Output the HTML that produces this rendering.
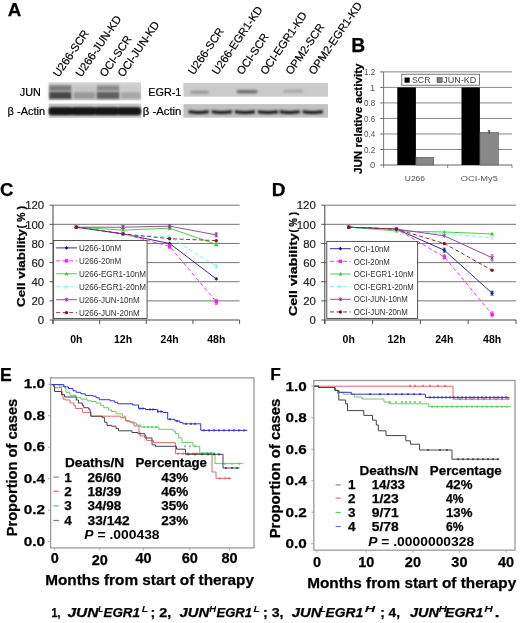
<!DOCTYPE html>
<html><head><meta charset="utf-8"><style>
html,body{margin:0;padding:0;background:#fff;}
body{width:520px;height:623px;overflow:hidden;}
svg{display:block;font-family:"Liberation Sans", sans-serif;filter:blur(0.3px);}
</style></head><body>
<svg width="520" height="623" viewBox="0 0 520 623">
<defs>
<filter id="bl" x="-20%" y="-50%" width="140%" height="200%"><feGaussianBlur stdDeviation="1.3"/></filter>
<filter id="bl2" x="-20%" y="-100%" width="140%" height="300%"><feGaussianBlur stdDeviation="0.8"/></filter>
</defs>
<rect width="520" height="623" fill="#fff"/>
<text x="7.7" y="16.3" font-size="18.8" font-weight="bold" fill="#000" stroke="#000" stroke-width="0.25" >A</text>
<text x="58.8" y="77.8" font-size="11.2" font-weight="normal" fill="#000" stroke="#000" stroke-width="0.18" transform="rotate(-55.5 58.8 77.8)" >U266-SCR</text>
<text x="81.3" y="77.8" font-size="11.2" font-weight="normal" fill="#000" stroke="#000" stroke-width="0.18" transform="rotate(-55.5 81.3 77.8)" >U266-JUN-KD</text>
<text x="105.3" y="77.8" font-size="11.2" font-weight="normal" fill="#000" stroke="#000" stroke-width="0.18" transform="rotate(-55.5 105.3 77.8)" >OCI-SCR</text>
<text x="123.3" y="77.8" font-size="11.2" font-weight="normal" fill="#000" stroke="#000" stroke-width="0.18" transform="rotate(-55.5 123.3 77.8)" >OCI-JUN-KD</text>
<text x="193.8" y="75.6" font-size="11.2" font-weight="normal" fill="#000" stroke="#000" stroke-width="0.18" transform="rotate(-55.5 193.8 75.6)" >U266-SCR</text>
<text x="217.60000000000002" y="75.6" font-size="11.2" font-weight="normal" fill="#000" stroke="#000" stroke-width="0.18" transform="rotate(-55.5 217.60000000000002 75.6)" >U266-EGR1-KD</text>
<text x="242.3" y="75.6" font-size="11.2" font-weight="normal" fill="#000" stroke="#000" stroke-width="0.18" transform="rotate(-55.5 242.3 75.6)" >OCI-SCR</text>
<text x="265.90000000000003" y="75.6" font-size="11.2" font-weight="normal" fill="#000" stroke="#000" stroke-width="0.18" transform="rotate(-55.5 265.90000000000003 75.6)" >OCI-EGR1-KD</text>
<text x="291.3" y="75.6" font-size="11.2" font-weight="normal" fill="#000" stroke="#000" stroke-width="0.18" transform="rotate(-55.5 291.3 75.6)" >OPM2-SCR</text>
<text x="314.3" y="75.6" font-size="11.2" font-weight="normal" fill="#000" stroke="#000" stroke-width="0.18" transform="rotate(-55.5 314.3 75.6)" >OPM2-EGR1-KD</text>
<text x="19.8" y="95.8" font-size="10" font-weight="normal" fill="#000" stroke="#000" stroke-width="0.18" textLength="21" lengthAdjust="spacingAndGlyphs" >JUN</text>
<text x="7.6" y="114.8" font-size="10.4" font-weight="normal" fill="#000" stroke="#000" stroke-width="0.18" textLength="37.6" lengthAdjust="spacingAndGlyphs" >β -Actin</text>
<text x="148.2" y="96.2" font-size="10" font-weight="normal" fill="#000" stroke="#000" stroke-width="0.18" textLength="33.2" lengthAdjust="spacingAndGlyphs" >EGR-1</text>
<text x="142.8" y="115.2" font-size="10.4" font-weight="normal" fill="#000" stroke="#000" stroke-width="0.18" textLength="38.6" lengthAdjust="spacingAndGlyphs" >β -Actin</text>
<rect x="48.7" y="82.3" width="92.3" height="18" fill="#d4d4d4" />
<rect x="49.2" y="85.2" width="22.299999999999997" height="5.8" fill="#7c7c7c" filter="url(#bl)"/>
<rect x="49.2" y="91.8" width="22.299999999999997" height="7.2" fill="#464646" filter="url(#bl)"/>
<rect x="73.5" y="85.2" width="21.5" height="5.8" fill="#c4c4c4" filter="url(#bl)"/>
<rect x="73.5" y="91.8" width="21.5" height="7.2" fill="#9a9a9a" filter="url(#bl)"/>
<rect x="96.5" y="85.2" width="23.0" height="5.8" fill="#8c8c8c" filter="url(#bl)"/>
<rect x="96.5" y="91.8" width="23.0" height="7.2" fill="#5e5e5e" filter="url(#bl)"/>
<rect x="121" y="85.2" width="19.5" height="5.8" fill="#cbcbcb" filter="url(#bl)"/>
<rect x="121" y="91.8" width="19.5" height="7.2" fill="#a8a8a8" filter="url(#bl)"/>
<rect x="48.7" y="103.6" width="92.3" height="14.2" fill="#c6c6c6" />
<rect x="49.2" y="108.2" width="91.3" height="6" fill="#161616" filter="url(#bl2)"/>
<rect x="49.2" y="107.4" width="22.799999999999997" height="7.4" rx="2.5" fill="#161616" filter="url(#bl2)"/>
<rect x="71" y="107.4" width="24.5" height="7.4" rx="2.5" fill="#161616" filter="url(#bl2)"/>
<rect x="94.5" y="107.4" width="24.0" height="7.4" rx="2.5" fill="#161616" filter="url(#bl2)"/>
<rect x="117.5" y="107.4" width="23.0" height="7.4" rx="2.5" fill="#161616" filter="url(#bl2)"/>
<rect x="183.4" y="83" width="144.6" height="13.6" fill="#cbcbcb" />
<rect x="190.5" y="90.4" width="18.5" height="3.6" rx="1.8" fill="#9c9c9c" filter="url(#bl2)"/>
<rect x="236.5" y="90" width="21.0" height="3.6" rx="1.8" fill="#707070" filter="url(#bl2)"/>
<rect x="283" y="89.4" width="20.5" height="3.6" rx="1.8" fill="#ababab" filter="url(#bl2)"/>
<rect x="183.4" y="104.1" width="144.6" height="13.5" fill="#c2c2c2" />
<path d="M188.6 110.2 Q198.7 111.6 208.8 110.2 L208.8 113.2 Q198.7 114.6 188.6 113.2 Z" fill="#121212" filter="url(#bl2)"/>
<path d="M211.7 110.2 Q221.8 111.6 231.9 110.2 L231.9 113.2 Q221.8 114.6 211.7 113.2 Z" fill="#121212" filter="url(#bl2)"/>
<path d="M234.8 110.2 Q244.9 111.6 255 110.2 L255 113.2 Q244.9 114.6 234.8 113.2 Z" fill="#121212" filter="url(#bl2)"/>
<path d="M257.9 110.2 Q267.95 111.6 278 110.2 L278 113.2 Q267.95 114.6 257.9 113.2 Z" fill="#121212" filter="url(#bl2)"/>
<path d="M279.5 110.2 Q289.6 111.6 299.7 110.2 L299.7 113.2 Q289.6 114.6 279.5 113.2 Z" fill="#121212" filter="url(#bl2)"/>
<path d="M302.6 110.2 Q312.70000000000005 111.6 322.8 110.2 L322.8 113.2 Q312.70000000000005 114.6 302.6 113.2 Z" fill="#121212" filter="url(#bl2)"/>
<text x="351.2" y="52.4" font-size="19.3" font-weight="bold" fill="#000" stroke="#000" stroke-width="0.25" >B</text>
<text x="361.6" y="174" font-size="11.8" font-weight="bold" fill="#000" stroke="#000" stroke-width="0.25" textLength="110.5" lengthAdjust="spacingAndGlyphs" transform="rotate(-90 361.6 174)" >JUN relative activity</text>
<text x="375.3" y="168.3" font-size="9.4" font-weight="normal" fill="#555" text-anchor="end" >0</text>
<line x1="380.2" y1="165.0" x2="383.6" y2="165.0" stroke="#555" stroke-width="0.9" />
<text x="364.1" y="152.8" font-size="9.4" font-weight="normal" fill="#555" textLength="11.2" lengthAdjust="spacingAndGlyphs" >0.2</text>
<line x1="380.2" y1="149.48" x2="383.6" y2="149.48" stroke="#555" stroke-width="0.9" />
<line x1="383.6" y1="149.48" x2="512" y2="149.48" stroke="#7a7a7a" stroke-width="0.9" />
<text x="364.1" y="137.3" font-size="9.4" font-weight="normal" fill="#555" textLength="11.2" lengthAdjust="spacingAndGlyphs" >0.4</text>
<line x1="380.2" y1="133.96" x2="383.6" y2="133.96" stroke="#555" stroke-width="0.9" />
<line x1="383.6" y1="133.96" x2="512" y2="133.96" stroke="#7a7a7a" stroke-width="0.9" />
<text x="364.1" y="121.7" font-size="9.4" font-weight="normal" fill="#555" textLength="11.2" lengthAdjust="spacingAndGlyphs" >0.6</text>
<line x1="380.2" y1="118.44" x2="383.6" y2="118.44" stroke="#555" stroke-width="0.9" />
<line x1="383.6" y1="118.44" x2="512" y2="118.44" stroke="#7a7a7a" stroke-width="0.9" />
<text x="364.1" y="106.2" font-size="9.4" font-weight="normal" fill="#555" textLength="11.2" lengthAdjust="spacingAndGlyphs" >0.8</text>
<line x1="380.2" y1="102.92" x2="383.6" y2="102.92" stroke="#555" stroke-width="0.9" />
<line x1="383.6" y1="102.92" x2="512" y2="102.92" stroke="#7a7a7a" stroke-width="0.9" />
<text x="375.3" y="90.7" font-size="9.4" font-weight="normal" fill="#555" text-anchor="end" >1</text>
<line x1="380.2" y1="87.4" x2="383.6" y2="87.4" stroke="#555" stroke-width="0.9" />
<line x1="383.6" y1="87.4" x2="512" y2="87.4" stroke="#7a7a7a" stroke-width="0.9" />
<text x="364.1" y="75.2" font-size="9.4" font-weight="normal" fill="#555" textLength="11.2" lengthAdjust="spacingAndGlyphs" >1.2</text>
<line x1="380.2" y1="71.88" x2="383.6" y2="71.88" stroke="#555" stroke-width="0.9" />
<line x1="383.6" y1="71.88" x2="512" y2="71.88" stroke="#7a7a7a" stroke-width="0.9" />
<line x1="383.6" y1="71.88" x2="383.6" y2="167.5" stroke="#777" stroke-width="1" />
<line x1="383.6" y1="165.0" x2="512" y2="165.0" stroke="#666" stroke-width="1.1" />
<line x1="447.7" y1="165.0" x2="447.7" y2="168.0" stroke="#666" stroke-width="0.8" />
<line x1="512" y1="165.0" x2="512" y2="168.0" stroke="#666" stroke-width="0.8" />
<rect x="397.3" y="87.4" width="18.6" height="77.6" fill="#000" />
<rect x="415.9" y="157.24" width="17.9" height="7.759999999999991" fill="#888" stroke="#444" stroke-width="0.5"/>
<rect x="461.5" y="87.4" width="18.4" height="77.6" fill="#000" />
<rect x="479.9" y="132.41" width="18.5" height="32.59" fill="#888" stroke="#444" stroke-width="0.5"/>
<line x1="489.1" y1="130.86" x2="489.1" y2="133.96" stroke="#222" stroke-width="0.9" />
<line x1="487.8" y1="130.86" x2="490.4" y2="130.86" stroke="#222" stroke-width="0.9" />
<rect x="401.8" y="74.2" width="77.6" height="11" fill="#fff" stroke="#555" stroke-width="0.8"/>
<rect x="404.5" y="77.5" width="5.2" height="5.2" fill="#000" />
<text x="412" y="83" font-size="8.5" font-weight="normal" fill="#444" textLength="18.5" lengthAdjust="spacingAndGlyphs" >SCR</text>
<rect x="437" y="77.5" width="5.2" height="5.2" fill="#808080" stroke="#333" stroke-width="0.5"/>
<text x="443.3" y="83" font-size="8.5" font-weight="normal" fill="#444" textLength="33" lengthAdjust="spacingAndGlyphs" >JUN-KD</text>
<text x="404.8" y="181" font-size="8" font-weight="normal" fill="#555" textLength="20.2" lengthAdjust="spacingAndGlyphs" >U266</text>
<text x="460.8" y="181" font-size="8" font-weight="normal" fill="#555" textLength="37" lengthAdjust="spacingAndGlyphs" >OCI-My5</text>
<text x="0" y="196.2" font-size="18.5" font-weight="bold" fill="#000" stroke="#000" stroke-width="0.25" >C</text>
<text x="25.3" y="307" font-size="11.8" font-weight="bold" fill="#000" stroke="#000" stroke-width="0.25" textLength="78" lengthAdjust="spacingAndGlyphs" transform="rotate(-90 25.3 307)" >Cell viability</text>
<text x="25.3" y="228.5" font-size="11.8" font-weight="bold" fill="#000" stroke="#000" stroke-width="0.25" textLength="22.5" lengthAdjust="spacingAndGlyphs" transform="rotate(-90 25.3 228.5)" >( % )</text>
<text x="44.2" y="324.2" font-size="11.4" font-weight="normal" fill="#222" stroke="#222" stroke-width="0.18" text-anchor="end" >0</text>
<line x1="49.5" y1="320.0" x2="53" y2="320.0" stroke="#444" stroke-width="0.9" />
<text x="44.2" y="305.1" font-size="11.4" font-weight="normal" fill="#222" stroke="#222" stroke-width="0.18" text-anchor="end" >20</text>
<line x1="49.5" y1="300.866" x2="53" y2="300.866" stroke="#444" stroke-width="0.9" />
<line x1="53" y1="300.866" x2="239.6" y2="300.866" stroke="#666" stroke-width="0.9" />
<text x="44.2" y="285.9" font-size="11.4" font-weight="normal" fill="#222" stroke="#222" stroke-width="0.18" text-anchor="end" >40</text>
<line x1="49.5" y1="281.73199999999997" x2="53" y2="281.73199999999997" stroke="#444" stroke-width="0.9" />
<line x1="53" y1="281.73199999999997" x2="239.6" y2="281.73199999999997" stroke="#666" stroke-width="0.9" />
<text x="44.2" y="266.8" font-size="11.4" font-weight="normal" fill="#222" stroke="#222" stroke-width="0.18" text-anchor="end" >60</text>
<line x1="49.5" y1="262.598" x2="53" y2="262.598" stroke="#444" stroke-width="0.9" />
<line x1="53" y1="262.598" x2="239.6" y2="262.598" stroke="#666" stroke-width="0.9" />
<text x="44.2" y="247.7" font-size="11.4" font-weight="normal" fill="#222" stroke="#222" stroke-width="0.18" text-anchor="end" >80</text>
<line x1="49.5" y1="243.464" x2="53" y2="243.464" stroke="#444" stroke-width="0.9" />
<line x1="53" y1="243.464" x2="239.6" y2="243.464" stroke="#666" stroke-width="0.9" />
<text x="44.2" y="228.5" font-size="11.4" font-weight="normal" fill="#222" stroke="#222" stroke-width="0.18" text-anchor="end" >100</text>
<line x1="49.5" y1="224.32999999999998" x2="53" y2="224.32999999999998" stroke="#444" stroke-width="0.9" />
<line x1="53" y1="224.32999999999998" x2="239.6" y2="224.32999999999998" stroke="#666" stroke-width="0.9" />
<text x="44.2" y="209.4" font-size="11.4" font-weight="normal" fill="#222" stroke="#222" stroke-width="0.18" text-anchor="end" >120</text>
<line x1="49.5" y1="205.196" x2="53" y2="205.196" stroke="#444" stroke-width="0.9" />
<line x1="53" y1="205.196" x2="239.6" y2="205.196" stroke="#666" stroke-width="0.9" />
<line x1="53" y1="205.196" x2="53" y2="324.0" stroke="#444" stroke-width="1" />
<line x1="53" y1="320.0" x2="239.6" y2="320.0" stroke="#444" stroke-width="1" />
<line x1="53.0" y1="320.0" x2="53.0" y2="324.0" stroke="#444" stroke-width="0.9" />
<line x1="99.65" y1="320.0" x2="99.65" y2="324.0" stroke="#444" stroke-width="0.9" />
<line x1="146.3" y1="320.0" x2="146.3" y2="324.0" stroke="#444" stroke-width="0.9" />
<line x1="192.95" y1="320.0" x2="192.95" y2="324.0" stroke="#444" stroke-width="0.9" />
<line x1="239.6" y1="320.0" x2="239.6" y2="324.0" stroke="#444" stroke-width="0.9" />
<text x="76.3" y="342.5" font-size="10.5" font-weight="bold" fill="#000" text-anchor="middle" >0h</text>
<text x="123.0" y="342.5" font-size="10.5" font-weight="bold" fill="#000" text-anchor="middle" >12h</text>
<text x="169.6" y="342.5" font-size="10.5" font-weight="bold" fill="#000" text-anchor="middle" >24h</text>
<text x="216.3" y="342.5" font-size="10.5" font-weight="bold" fill="#000" text-anchor="middle" >48h</text>
<rect x="53.6" y="240.5" width="93.5" height="78.0" fill="#fff" stroke="#444" stroke-width="0.9"/>
<polyline points="76.3,227.2 123.0,233.9 169.6,243.5 216.3,278.9" fill="none" stroke="#1a1a80" stroke-width="0.9" />
<path d="M76.3 225.29999999999998 L78.2 227.2 L76.3 229.1 L74.39999999999999 227.2 Z" fill="#1a1a80"/>
<path d="M123.0 232.0 L124.9 233.9 L123.0 235.8 L121.1 233.9 Z" fill="#1a1a80"/>
<path d="M169.6 241.6 L171.5 243.5 L169.6 245.4 L167.7 243.5 Z" fill="#1a1a80"/>
<path d="M216.3 277.0 L218.20000000000002 278.9 L216.3 280.79999999999995 L214.4 278.9 Z" fill="#1a1a80"/>
<line x1="56.2" y1="247.9" x2="76.9" y2="247.9" stroke="#1a1a80" stroke-width="0.9" />
<path d="M66.55 246.0 L68.45 247.9 L66.55 249.8 L64.64999999999999 247.9 Z" fill="#1a1a80"/>
<text x="78.9" y="251.0" font-size="8.748" font-weight="normal" fill="#333" textLength="42.32" lengthAdjust="spacingAndGlyphs" >U266-10nM</text>
<polyline points="76.3,227.2 123.0,233.9 169.6,246.3 216.3,301.8" fill="none" stroke="#f020f0" stroke-width="0.9" stroke-dasharray="4,2.5"/>
<rect x="74.6" y="225.5" width="3.4" height="3.4" fill="#f020f0"/>
<rect x="121.3" y="232.20000000000002" width="3.4" height="3.4" fill="#f020f0"/>
<line x1="169.6" y1="244.3" x2="169.6" y2="248.3" stroke="#f020f0" stroke-width="0.8" />
<line x1="168.1" y1="244.3" x2="171.1" y2="244.3" stroke="#f020f0" stroke-width="0.8" />
<line x1="168.1" y1="248.3" x2="171.1" y2="248.3" stroke="#f020f0" stroke-width="0.8" />
<rect x="167.9" y="244.60000000000002" width="3.4" height="3.4" fill="#f020f0"/>
<line x1="216.3" y1="299.3" x2="216.3" y2="304.3" stroke="#f020f0" stroke-width="0.8" />
<line x1="214.8" y1="299.3" x2="217.8" y2="299.3" stroke="#f020f0" stroke-width="0.8" />
<line x1="214.8" y1="304.3" x2="217.8" y2="304.3" stroke="#f020f0" stroke-width="0.8" />
<rect x="214.60000000000002" y="300.1" width="3.4" height="3.4" fill="#f020f0"/>
<line x1="56.2" y1="260.85" x2="76.9" y2="260.85" stroke="#f020f0" stroke-width="0.9" stroke-dasharray="4,2.5"/>
<rect x="64.85" y="259.15000000000003" width="3.4" height="3.4" fill="#f020f0"/>
<text x="78.9" y="264.0" font-size="8.748" font-weight="normal" fill="#333" textLength="42.32" lengthAdjust="spacingAndGlyphs" >U266-20nM</text>
<polyline points="76.3,227.2 123.0,230.1 169.6,228.2 216.3,244.4" fill="none" stroke="#3cc83c" stroke-width="0.9" />
<path d="M76.3 225.1 L78.39999999999999 228.7 L74.2 228.7 Z" fill="#3cc83c"/>
<path d="M123.0 228.0 L125.1 231.6 L120.9 231.6 Z" fill="#3cc83c"/>
<line x1="169.6" y1="226.7" x2="169.6" y2="229.7" stroke="#3cc83c" stroke-width="0.8" />
<line x1="168.1" y1="226.7" x2="171.1" y2="226.7" stroke="#3cc83c" stroke-width="0.8" />
<line x1="168.1" y1="229.7" x2="171.1" y2="229.7" stroke="#3cc83c" stroke-width="0.8" />
<path d="M169.6 226.1 L171.7 229.7 L167.5 229.7 Z" fill="#3cc83c"/>
<line x1="216.3" y1="242.9" x2="216.3" y2="245.9" stroke="#3cc83c" stroke-width="0.8" />
<line x1="214.8" y1="242.9" x2="217.8" y2="242.9" stroke="#3cc83c" stroke-width="0.8" />
<line x1="214.8" y1="245.9" x2="217.8" y2="245.9" stroke="#3cc83c" stroke-width="0.8" />
<path d="M216.3 242.3 L218.4 245.9 L214.20000000000002 245.9 Z" fill="#3cc83c"/>
<line x1="56.2" y1="273.8" x2="76.9" y2="273.8" stroke="#3cc83c" stroke-width="0.9" />
<path d="M66.55 271.7 L68.64999999999999 275.3 L64.45 275.3 Z" fill="#3cc83c"/>
<text x="78.9" y="276.9" font-size="8.748" font-weight="normal" fill="#333" textLength="67.08" lengthAdjust="spacingAndGlyphs" >U266-EGR1-10nM</text>
<polyline points="76.3,227.2 123.0,234.9 169.6,236.8 216.3,266.4" fill="none" stroke="#70f0f0" stroke-width="0.9" stroke-dasharray="4,2.5"/>
<path d="M74.6 225.5 L78.0 228.89999999999998 M78.0 225.5 L74.6 228.89999999999998" stroke="#70f0f0" stroke-width="0.9"/>
<path d="M121.3 233.20000000000002 L124.7 236.6 M124.7 233.20000000000002 L121.3 236.6" stroke="#70f0f0" stroke-width="0.9"/>
<path d="M167.9 235.10000000000002 L171.29999999999998 238.5 M171.29999999999998 235.10000000000002 L167.9 238.5" stroke="#70f0f0" stroke-width="0.9"/>
<line x1="216.3" y1="264.9" x2="216.3" y2="267.9" stroke="#70f0f0" stroke-width="0.8" />
<line x1="214.8" y1="264.9" x2="217.8" y2="264.9" stroke="#70f0f0" stroke-width="0.8" />
<line x1="214.8" y1="267.9" x2="217.8" y2="267.9" stroke="#70f0f0" stroke-width="0.8" />
<path d="M214.60000000000002 264.7 L218.0 268.09999999999997 M218.0 264.7 L214.60000000000002 268.09999999999997" stroke="#70f0f0" stroke-width="0.9"/>
<line x1="56.2" y1="286.75" x2="76.9" y2="286.75" stroke="#70f0f0" stroke-width="0.9" stroke-dasharray="4,2.5"/>
<path d="M64.85 285.05 L68.25 288.45 M68.25 285.05 L64.85 288.45" stroke="#70f0f0" stroke-width="0.9"/>
<text x="78.9" y="289.9" font-size="8.748" font-weight="normal" fill="#333" textLength="67.08" lengthAdjust="spacingAndGlyphs" >U266-EGR1-20nM</text>
<polyline points="76.3,227.2 123.0,227.2 169.6,226.2 216.3,234.9" fill="none" stroke="#8a3a8a" stroke-width="0.9" />
<path d="M74.7 225.6 L77.89999999999999 228.79999999999998 M77.89999999999999 225.6 L74.7 228.79999999999998 M76.3 225.2 L76.3 229.2" stroke="#8a3a8a" stroke-width="0.9"/>
<line x1="123.0" y1="225.7" x2="123.0" y2="228.7" stroke="#8a3a8a" stroke-width="0.8" />
<line x1="121.5" y1="225.7" x2="124.5" y2="225.7" stroke="#8a3a8a" stroke-width="0.8" />
<line x1="121.5" y1="228.7" x2="124.5" y2="228.7" stroke="#8a3a8a" stroke-width="0.8" />
<path d="M121.4 225.6 L124.6 228.79999999999998 M124.6 225.6 L121.4 228.79999999999998 M123.0 225.2 L123.0 229.2" stroke="#8a3a8a" stroke-width="0.9"/>
<line x1="169.6" y1="224.7" x2="169.6" y2="227.7" stroke="#8a3a8a" stroke-width="0.8" />
<line x1="168.1" y1="224.7" x2="171.1" y2="224.7" stroke="#8a3a8a" stroke-width="0.8" />
<line x1="168.1" y1="227.7" x2="171.1" y2="227.7" stroke="#8a3a8a" stroke-width="0.8" />
<path d="M168.0 224.6 L171.2 227.79999999999998 M171.2 224.6 L168.0 227.79999999999998 M169.6 224.2 L169.6 228.2" stroke="#8a3a8a" stroke-width="0.9"/>
<line x1="216.3" y1="232.9" x2="216.3" y2="236.9" stroke="#8a3a8a" stroke-width="0.8" />
<line x1="214.8" y1="232.9" x2="217.8" y2="232.9" stroke="#8a3a8a" stroke-width="0.8" />
<line x1="214.8" y1="236.9" x2="217.8" y2="236.9" stroke="#8a3a8a" stroke-width="0.8" />
<path d="M214.70000000000002 233.3 L217.9 236.5 M217.9 233.3 L214.70000000000002 236.5 M216.3 232.9 L216.3 236.9" stroke="#8a3a8a" stroke-width="0.9"/>
<line x1="56.2" y1="299.7" x2="76.9" y2="299.7" stroke="#8a3a8a" stroke-width="0.9" />
<path d="M64.95 298.09999999999997 L68.14999999999999 301.3 M68.14999999999999 298.09999999999997 L64.95 301.3 M66.55 297.7 L66.55 301.7" stroke="#8a3a8a" stroke-width="0.9"/>
<text x="78.9" y="302.8" font-size="8.748" font-weight="normal" fill="#333" textLength="60.77" lengthAdjust="spacingAndGlyphs" >U266-JUN-10nM</text>
<polyline points="76.3,227.2 123.0,233.9 169.6,238.7 216.3,240.6" fill="none" stroke="#801a1a" stroke-width="0.9" stroke-dasharray="4,2.5"/>
<circle cx="76.3" cy="227.2" r="1.7" fill="#801a1a"/>
<circle cx="123.0" cy="233.9" r="1.7" fill="#801a1a"/>
<circle cx="169.6" cy="238.7" r="1.7" fill="#801a1a"/>
<circle cx="216.3" cy="240.6" r="1.7" fill="#801a1a"/>
<line x1="56.2" y1="312.65" x2="76.9" y2="312.65" stroke="#801a1a" stroke-width="0.9" stroke-dasharray="4,2.5"/>
<circle cx="66.55" cy="312.65" r="1.7" fill="#801a1a"/>
<text x="78.9" y="315.8" font-size="8.748" font-weight="normal" fill="#333" textLength="60.77" lengthAdjust="spacingAndGlyphs" >U266-JUN-20nM</text>
<text x="271.7" y="195.5" font-size="19" font-weight="bold" fill="#000" stroke="#000" stroke-width="0.25" >D</text>
<text x="297.5" y="316.1" font-size="11.8" font-weight="bold" fill="#000" stroke="#000" stroke-width="0.25" textLength="83" lengthAdjust="spacingAndGlyphs" transform="rotate(-90 297.5 316.1)" >Cell viability</text>
<text x="297.5" y="232.6" font-size="11.8" font-weight="bold" fill="#000" stroke="#000" stroke-width="0.25" textLength="20.5" lengthAdjust="spacingAndGlyphs" transform="rotate(-90 297.5 232.6)" >( % )</text>
<text x="315.8" y="324.2" font-size="11.4" font-weight="normal" fill="#222" stroke="#222" stroke-width="0.18" text-anchor="end" >0</text>
<line x1="321.3" y1="320.0" x2="324.8" y2="320.0" stroke="#444" stroke-width="0.9" />
<text x="315.8" y="305.1" font-size="11.4" font-weight="normal" fill="#222" stroke="#222" stroke-width="0.18" text-anchor="end" >20</text>
<line x1="321.3" y1="300.866" x2="324.8" y2="300.866" stroke="#444" stroke-width="0.9" />
<line x1="324.8" y1="300.866" x2="516" y2="300.866" stroke="#666" stroke-width="0.9" />
<text x="315.8" y="285.9" font-size="11.4" font-weight="normal" fill="#222" stroke="#222" stroke-width="0.18" text-anchor="end" >40</text>
<line x1="321.3" y1="281.73199999999997" x2="324.8" y2="281.73199999999997" stroke="#444" stroke-width="0.9" />
<line x1="324.8" y1="281.73199999999997" x2="516" y2="281.73199999999997" stroke="#666" stroke-width="0.9" />
<text x="315.8" y="266.8" font-size="11.4" font-weight="normal" fill="#222" stroke="#222" stroke-width="0.18" text-anchor="end" >60</text>
<line x1="321.3" y1="262.598" x2="324.8" y2="262.598" stroke="#444" stroke-width="0.9" />
<line x1="324.8" y1="262.598" x2="516" y2="262.598" stroke="#666" stroke-width="0.9" />
<text x="315.8" y="247.7" font-size="11.4" font-weight="normal" fill="#222" stroke="#222" stroke-width="0.18" text-anchor="end" >80</text>
<line x1="321.3" y1="243.464" x2="324.8" y2="243.464" stroke="#444" stroke-width="0.9" />
<line x1="324.8" y1="243.464" x2="516" y2="243.464" stroke="#666" stroke-width="0.9" />
<text x="315.8" y="228.5" font-size="11.4" font-weight="normal" fill="#222" stroke="#222" stroke-width="0.18" text-anchor="end" >100</text>
<line x1="321.3" y1="224.32999999999998" x2="324.8" y2="224.32999999999998" stroke="#444" stroke-width="0.9" />
<line x1="324.8" y1="224.32999999999998" x2="516" y2="224.32999999999998" stroke="#666" stroke-width="0.9" />
<text x="315.8" y="209.4" font-size="11.4" font-weight="normal" fill="#222" stroke="#222" stroke-width="0.18" text-anchor="end" >120</text>
<line x1="321.3" y1="205.196" x2="324.8" y2="205.196" stroke="#444" stroke-width="0.9" />
<line x1="324.8" y1="205.196" x2="516" y2="205.196" stroke="#666" stroke-width="0.9" />
<line x1="324.8" y1="205.196" x2="324.8" y2="324.0" stroke="#444" stroke-width="1" />
<line x1="324.8" y1="320.0" x2="516" y2="320.0" stroke="#444" stroke-width="1" />
<line x1="324.8" y1="320.0" x2="324.8" y2="324.0" stroke="#444" stroke-width="0.9" />
<line x1="372.6" y1="320.0" x2="372.6" y2="324.0" stroke="#444" stroke-width="0.9" />
<line x1="420.4" y1="320.0" x2="420.4" y2="324.0" stroke="#444" stroke-width="0.9" />
<line x1="468.2" y1="320.0" x2="468.2" y2="324.0" stroke="#444" stroke-width="0.9" />
<line x1="516.0" y1="320.0" x2="516.0" y2="324.0" stroke="#444" stroke-width="0.9" />
<text x="348.7" y="342.5" font-size="10.5" font-weight="bold" fill="#000" text-anchor="middle" >0h</text>
<text x="396.5" y="342.5" font-size="10.5" font-weight="bold" fill="#000" text-anchor="middle" >12h</text>
<text x="444.3" y="342.5" font-size="10.5" font-weight="bold" fill="#000" text-anchor="middle" >24h</text>
<text x="492.1" y="342.5" font-size="10.5" font-weight="bold" fill="#000" text-anchor="middle" >48h</text>
<rect x="326.8" y="241.4" width="90.80000000000001" height="77.1" fill="#fff" stroke="#444" stroke-width="0.9"/>
<polyline points="348.7,227.2 396.5,229.1 444.3,250.2 492.1,293.2" fill="none" stroke="#1a1a80" stroke-width="0.9" />
<path d="M348.7 225.29999999999998 L350.59999999999997 227.2 L348.7 229.1 L346.8 227.2 Z" fill="#1a1a80"/>
<path d="M396.5 227.2 L398.4 229.1 L396.5 231.0 L394.6 229.1 Z" fill="#1a1a80"/>
<line x1="444.3" y1="248.2" x2="444.3" y2="252.2" stroke="#1a1a80" stroke-width="0.8" />
<line x1="442.8" y1="248.2" x2="445.8" y2="248.2" stroke="#1a1a80" stroke-width="0.8" />
<line x1="442.8" y1="252.2" x2="445.8" y2="252.2" stroke="#1a1a80" stroke-width="0.8" />
<path d="M444.3 248.29999999999998 L446.2 250.2 L444.3 252.1 L442.40000000000003 250.2 Z" fill="#1a1a80"/>
<line x1="492.1" y1="291.2" x2="492.1" y2="295.2" stroke="#1a1a80" stroke-width="0.8" />
<line x1="490.6" y1="291.2" x2="493.6" y2="291.2" stroke="#1a1a80" stroke-width="0.8" />
<line x1="490.6" y1="295.2" x2="493.6" y2="295.2" stroke="#1a1a80" stroke-width="0.8" />
<path d="M492.1 291.3 L494.0 293.2 L492.1 295.09999999999997 L490.20000000000005 293.2 Z" fill="#1a1a80"/>
<line x1="330" y1="248.7" x2="350.8" y2="248.7" stroke="#1a1a80" stroke-width="0.9" />
<path d="M340.4 246.79999999999998 L342.29999999999995 248.7 L340.4 250.6 L338.5 248.7 Z" fill="#1a1a80"/>
<text x="353.7" y="251.8" font-size="8.478" font-weight="normal" fill="#333" textLength="36.21" lengthAdjust="spacingAndGlyphs" >OCI-10nM</text>
<polyline points="348.7,227.2 396.5,229.1 444.3,256.9 492.1,314.3" fill="none" stroke="#f020f0" stroke-width="0.9" stroke-dasharray="4,2.5"/>
<rect x="347.0" y="225.5" width="3.4" height="3.4" fill="#f020f0"/>
<rect x="394.8" y="227.4" width="3.4" height="3.4" fill="#f020f0"/>
<line x1="444.3" y1="254.89999999999998" x2="444.3" y2="258.9" stroke="#f020f0" stroke-width="0.8" />
<line x1="442.8" y1="254.89999999999998" x2="445.8" y2="254.89999999999998" stroke="#f020f0" stroke-width="0.8" />
<line x1="442.8" y1="258.9" x2="445.8" y2="258.9" stroke="#f020f0" stroke-width="0.8" />
<rect x="442.6" y="255.2" width="3.4" height="3.4" fill="#f020f0"/>
<line x1="492.1" y1="311.8" x2="492.1" y2="316.8" stroke="#f020f0" stroke-width="0.8" />
<line x1="490.6" y1="311.8" x2="493.6" y2="311.8" stroke="#f020f0" stroke-width="0.8" />
<line x1="490.6" y1="316.8" x2="493.6" y2="316.8" stroke="#f020f0" stroke-width="0.8" />
<rect x="490.40000000000003" y="312.6" width="3.4" height="3.4" fill="#f020f0"/>
<line x1="330" y1="261.35" x2="350.8" y2="261.35" stroke="#f020f0" stroke-width="0.9" stroke-dasharray="4,2.5"/>
<rect x="338.7" y="259.65000000000003" width="3.4" height="3.4" fill="#f020f0"/>
<text x="353.7" y="264.5" font-size="8.478" font-weight="normal" fill="#333" textLength="36.21" lengthAdjust="spacingAndGlyphs" >OCI-20nM</text>
<polyline points="348.7,227.2 396.5,231.0 444.3,232.0 492.1,233.9" fill="none" stroke="#3cc83c" stroke-width="0.9" />
<path d="M348.7 225.1 L350.8 228.7 L346.59999999999997 228.7 Z" fill="#3cc83c"/>
<path d="M396.5 228.9 L398.6 232.5 L394.4 232.5 Z" fill="#3cc83c"/>
<path d="M444.3 229.9 L446.40000000000003 233.5 L442.2 233.5 Z" fill="#3cc83c"/>
<path d="M492.1 231.8 L494.20000000000005 235.4 L490.0 235.4 Z" fill="#3cc83c"/>
<line x1="330" y1="274.0" x2="350.8" y2="274.0" stroke="#3cc83c" stroke-width="0.9" />
<path d="M340.4 271.9 L342.5 275.5 L338.29999999999995 275.5 Z" fill="#3cc83c"/>
<text x="353.7" y="277.1" font-size="8.478" font-weight="normal" fill="#333" textLength="60.2" lengthAdjust="spacingAndGlyphs" >OCI-EGR1-10nM</text>
<polyline points="348.7,227.2 396.5,230.1 444.3,233.9 492.1,237.7" fill="none" stroke="#70f0f0" stroke-width="0.9" stroke-dasharray="4,2.5"/>
<path d="M347.0 225.5 L350.4 228.89999999999998 M350.4 225.5 L347.0 228.89999999999998" stroke="#70f0f0" stroke-width="0.9"/>
<path d="M394.8 228.4 L398.2 231.79999999999998 M398.2 228.4 L394.8 231.79999999999998" stroke="#70f0f0" stroke-width="0.9"/>
<path d="M442.6 232.20000000000002 L446.0 235.6 M446.0 232.20000000000002 L442.6 235.6" stroke="#70f0f0" stroke-width="0.9"/>
<path d="M490.40000000000003 236.0 L493.8 239.39999999999998 M493.8 236.0 L490.40000000000003 239.39999999999998" stroke="#70f0f0" stroke-width="0.9"/>
<line x1="330" y1="286.65" x2="350.8" y2="286.65" stroke="#70f0f0" stroke-width="0.9" stroke-dasharray="4,2.5"/>
<path d="M338.7 284.95 L342.09999999999997 288.34999999999997 M342.09999999999997 284.95 L338.7 288.34999999999997" stroke="#70f0f0" stroke-width="0.9"/>
<text x="353.7" y="289.8" font-size="8.478" font-weight="normal" fill="#333" textLength="60.2" lengthAdjust="spacingAndGlyphs" >OCI-EGR1-20nM</text>
<polyline points="348.7,227.2 396.5,229.1 444.3,235.8 492.1,257.8" fill="none" stroke="#8a3a8a" stroke-width="0.9" />
<path d="M347.09999999999997 225.6 L350.3 228.79999999999998 M350.3 225.6 L347.09999999999997 228.79999999999998 M348.7 225.2 L348.7 229.2" stroke="#8a3a8a" stroke-width="0.9"/>
<path d="M394.9 227.5 L398.1 230.7 M398.1 227.5 L394.9 230.7 M396.5 227.1 L396.5 231.1" stroke="#8a3a8a" stroke-width="0.9"/>
<path d="M442.7 234.20000000000002 L445.90000000000003 237.4 M445.90000000000003 234.20000000000002 L442.7 237.4 M444.3 233.8 L444.3 237.8" stroke="#8a3a8a" stroke-width="0.9"/>
<line x1="492.1" y1="254.8" x2="492.1" y2="260.8" stroke="#8a3a8a" stroke-width="0.8" />
<line x1="490.6" y1="254.8" x2="493.6" y2="254.8" stroke="#8a3a8a" stroke-width="0.8" />
<line x1="490.6" y1="260.8" x2="493.6" y2="260.8" stroke="#8a3a8a" stroke-width="0.8" />
<path d="M490.5 256.2 L493.70000000000005 259.40000000000003 M493.70000000000005 256.2 L490.5 259.40000000000003 M492.1 255.8 L492.1 259.8" stroke="#8a3a8a" stroke-width="0.9"/>
<line x1="330" y1="299.3" x2="350.8" y2="299.3" stroke="#8a3a8a" stroke-width="0.9" />
<path d="M338.79999999999995 297.7 L342.0 300.90000000000003 M342.0 297.7 L338.79999999999995 300.90000000000003 M340.4 297.3 L340.4 301.3" stroke="#8a3a8a" stroke-width="0.9"/>
<text x="353.7" y="302.4" font-size="8.478" font-weight="normal" fill="#333" textLength="54.08" lengthAdjust="spacingAndGlyphs" >OCI-JUN-10nM</text>
<polyline points="348.7,227.2 396.5,229.1 444.3,243.5 492.1,270.3" fill="none" stroke="#801a1a" stroke-width="0.9" stroke-dasharray="4,2.5"/>
<circle cx="348.7" cy="227.2" r="1.7" fill="#801a1a"/>
<circle cx="396.5" cy="229.1" r="1.7" fill="#801a1a"/>
<circle cx="444.3" cy="243.5" r="1.7" fill="#801a1a"/>
<circle cx="492.1" cy="270.3" r="1.7" fill="#801a1a"/>
<line x1="330" y1="311.95" x2="350.8" y2="311.95" stroke="#801a1a" stroke-width="0.9" stroke-dasharray="4,2.5"/>
<circle cx="340.4" cy="311.95" r="1.7" fill="#801a1a"/>
<text x="353.7" y="315.1" font-size="8.478" font-weight="normal" fill="#333" textLength="54.08" lengthAdjust="spacingAndGlyphs" >OCI-JUN-20nM</text>
<text x="-0.1" y="381.3" font-size="17.6" font-weight="bold" fill="#000" stroke="#000" stroke-width="0.25" >E</text>
<rect x="50.6" y="377.9" width="203.4" height="170.0" fill="none" stroke="#9a9a9a" stroke-width="1.3"/>
<text x="45" y="545.7" font-size="13.5" font-weight="bold" fill="#000" stroke="#000" stroke-width="0.25" text-anchor="end" textLength="21.3" lengthAdjust="spacingAndGlyphs" >0.0</text>
<line x1="48.1" y1="541.6" x2="50.6" y2="541.6" stroke="#aaa" stroke-width="1" />
<text x="45" y="514.2" font-size="13.5" font-weight="bold" fill="#000" stroke="#000" stroke-width="0.25" text-anchor="end" textLength="21.3" lengthAdjust="spacingAndGlyphs" >0.2</text>
<line x1="48.1" y1="510.12" x2="50.6" y2="510.12" stroke="#aaa" stroke-width="1" />
<text x="45" y="482.7" font-size="13.5" font-weight="bold" fill="#000" stroke="#000" stroke-width="0.25" text-anchor="end" textLength="21.3" lengthAdjust="spacingAndGlyphs" >0.4</text>
<line x1="48.1" y1="478.64" x2="50.6" y2="478.64" stroke="#aaa" stroke-width="1" />
<text x="45" y="451.3" font-size="13.5" font-weight="bold" fill="#000" stroke="#000" stroke-width="0.25" text-anchor="end" textLength="21.3" lengthAdjust="spacingAndGlyphs" >0.6</text>
<line x1="48.1" y1="447.16" x2="50.6" y2="447.16" stroke="#aaa" stroke-width="1" />
<text x="45" y="419.8" font-size="13.5" font-weight="bold" fill="#000" stroke="#000" stroke-width="0.25" text-anchor="end" textLength="21.3" lengthAdjust="spacingAndGlyphs" >0.8</text>
<line x1="48.1" y1="415.68" x2="50.6" y2="415.68" stroke="#aaa" stroke-width="1" />
<text x="45" y="388.3" font-size="13.5" font-weight="bold" fill="#000" stroke="#000" stroke-width="0.25" text-anchor="end" textLength="21.3" lengthAdjust="spacingAndGlyphs" >1.0</text>
<line x1="48.1" y1="384.2" x2="50.6" y2="384.2" stroke="#aaa" stroke-width="1" />
<text x="54.7" y="563.4" font-size="14.5" font-weight="bold" fill="#000" stroke="#000" stroke-width="0.25" text-anchor="middle" >0</text>
<line x1="54.7" y1="547.9" x2="54.7" y2="550.4" stroke="#aaa" stroke-width="1" />
<text x="99.8" y="564.9" font-size="14.5" font-weight="bold" fill="#000" stroke="#000" stroke-width="0.25" text-anchor="middle" >20</text>
<line x1="99.8" y1="547.9" x2="99.8" y2="550.4" stroke="#aaa" stroke-width="1" />
<text x="143.6" y="563.4" font-size="14.5" font-weight="bold" fill="#000" stroke="#000" stroke-width="0.25" text-anchor="middle" >40</text>
<line x1="143.6" y1="547.9" x2="143.6" y2="550.4" stroke="#aaa" stroke-width="1" />
<text x="189.8" y="563.4" font-size="14.5" font-weight="bold" fill="#000" stroke="#000" stroke-width="0.25" text-anchor="middle" >60</text>
<line x1="189.8" y1="547.9" x2="189.8" y2="550.4" stroke="#aaa" stroke-width="1" />
<text x="229.5" y="563.4" font-size="14.5" font-weight="bold" fill="#000" stroke="#000" stroke-width="0.25" text-anchor="middle" >80</text>
<line x1="229.5" y1="547.9" x2="229.5" y2="550.4" stroke="#aaa" stroke-width="1" />
<text x="17.2" y="536.3" font-size="14.5" font-weight="bold" fill="#000" stroke="#000" stroke-width="0.25" textLength="137.5" lengthAdjust="spacingAndGlyphs" transform="rotate(-90 17.2 536.3)" >Proportion of cases</text>
<text x="45.2" y="585" font-size="15" font-weight="bold" fill="#000" stroke="#000" stroke-width="0.25" textLength="208.8" lengthAdjust="spacingAndGlyphs" >Months from start of therapy</text>
<path d="M51.5 384.6 H59.2 V386.2 H65.4 V388.5 H66 V392.3 H70 V395.4 H76.2 V397.7 H80.8 V399.2 H87 V400.8 H91.5 V401.5 H96 V403 H100.8 V405.4 H103.8 V407.7 H108.5 V410 H111.5 V411.5 H116 V413.8 H122.3 V416.2 H125.4 V420 H127 V421.5 H131 V423 H136.5 V425 H140.4 V427 H158.8 V429.3 H173.2 V431 H175.4 V433.7 H178.7 V438 H182 V442.6 H193 V446.3 H199.7 V453 H215 V463.6 H243" fill="none" stroke="#66cc66" stroke-width="1"/>
<rect x="143.2" y="426" width="1.6" height="2" fill="#66cc66"/>
<rect x="147.2" y="426" width="1.6" height="2" fill="#66cc66"/>
<rect x="151.2" y="426" width="1.6" height="2" fill="#66cc66"/>
<rect x="155.2" y="426" width="1.6" height="2" fill="#66cc66"/>
<rect x="184.2" y="445.3" width="1.6" height="2" fill="#66cc66"/>
<rect x="189.2" y="445.3" width="1.6" height="2" fill="#66cc66"/>
<rect x="194.2" y="445.3" width="1.6" height="2" fill="#66cc66"/>
<rect x="202.2" y="452" width="1.6" height="2" fill="#66cc66"/>
<rect x="206.2" y="452" width="1.6" height="2" fill="#66cc66"/>
<rect x="210.2" y="452" width="1.6" height="2" fill="#66cc66"/>
<rect x="224.2" y="462.6" width="1.6" height="2" fill="#66cc66"/>
<rect x="231.2" y="462.6" width="1.6" height="2" fill="#66cc66"/>
<rect x="238.2" y="462.6" width="1.6" height="2" fill="#66cc66"/>
<path d="M51.5 384.6 H54.6 V387.7 H61.5 V391.5 H62.3 V395.4 H63 V399.2 H65.4 V400 H70 V403 H73.8 V405.4 H75.4 V408.5 H82.3 V412.3 H90.8 V416.2 H120.8 V417.7 H125.4 V420.8 H130 V422 H134 V426 H139 V432 H140 V436 H146.6 V440.4 H153.3 V442.6 H175.4 V453.6 H212 V472 H216 V478.4 H231" fill="none" stroke="#e06666" stroke-width="1"/>
<rect x="177.2" y="452.6" width="1.6" height="2" fill="#e06666"/>
<rect x="182.2" y="452.6" width="1.6" height="2" fill="#e06666"/>
<rect x="187.2" y="452.6" width="1.6" height="2" fill="#e06666"/>
<rect x="192.2" y="452.6" width="1.6" height="2" fill="#e06666"/>
<rect x="196.2" y="452.6" width="1.6" height="2" fill="#e06666"/>
<rect x="219.2" y="477.4" width="1.6" height="2" fill="#e06666"/>
<rect x="224.2" y="477.4" width="1.6" height="2" fill="#e06666"/>
<rect x="228.2" y="477.4" width="1.6" height="2" fill="#e06666"/>
<path d="M51.5 384.6 H53.8 V386.9 H54.6 V391.5 H61.5 V394.6 H64.6 V397 H76.2 V400 H78.5 V403 H82.3 V405.4 H83.8 V407.7 H88.5 V409.2 H90 V411.5 H90.8 V416.2 H102.3 V417.7 H104.6 V422.3 H107 V425.4 H111.5 V426.2 H116 V428.5 H118.5 V430.8 H132 V432.5 H138 V433.7 H145 V438 H152 V444.8 H155.5 V446.3 H176.5 V449.2 H185.4 V454.3 H223 V468 H239.6" fill="none" stroke="#444" stroke-width="1"/>
<rect x="187.2" y="453.3" width="1.6" height="2" fill="#444"/>
<rect x="194.2" y="453.3" width="1.6" height="2" fill="#444"/>
<rect x="201.2" y="453.3" width="1.6" height="2" fill="#444"/>
<rect x="207.2" y="453.3" width="1.6" height="2" fill="#444"/>
<rect x="213.2" y="453.3" width="1.6" height="2" fill="#444"/>
<rect x="218.2" y="453.3" width="1.6" height="2" fill="#444"/>
<rect x="225.2" y="467" width="1.6" height="2" fill="#444"/>
<rect x="231.2" y="467" width="1.6" height="2" fill="#444"/>
<rect x="236.2" y="467" width="1.6" height="2" fill="#444"/>
<path d="M51.5 384.6 H63.8 V386.9 H68.5 V388.5 H73 V390.8 H76.2 V392.3 H80.8 V393.8 H85.4 V395.4 H93 V396.2 H96 V397.7 H99.2 V399.7 H110 V400.8 H114.6 V402.3 H117.7 V403.8 H132.7 V405 H138.5 V408.5 H145.5 V409.5 H157.7 V411.6 H163 V412.5 H167.7 V419.3 H175 V421 H179.8 V422.6 H183 V423.8 H200.8 V430.4 H247.3" fill="none" stroke="#3333cc" stroke-width="1"/>
<rect x="203.2" y="429.4" width="1.6" height="2" fill="#3333cc"/>
<rect x="208.2" y="429.4" width="1.6" height="2" fill="#3333cc"/>
<rect x="213.2" y="429.4" width="1.6" height="2" fill="#3333cc"/>
<rect x="218.2" y="429.4" width="1.6" height="2" fill="#3333cc"/>
<rect x="223.2" y="429.4" width="1.6" height="2" fill="#3333cc"/>
<rect x="228.2" y="429.4" width="1.6" height="2" fill="#3333cc"/>
<rect x="233.2" y="429.4" width="1.6" height="2" fill="#3333cc"/>
<rect x="238.2" y="429.4" width="1.6" height="2" fill="#3333cc"/>
<rect x="243.2" y="429.4" width="1.6" height="2" fill="#3333cc"/>
<rect x="139.2" y="407.5" width="1.6" height="2" fill="#3333cc"/>
<rect x="142.2" y="407.5" width="1.6" height="2" fill="#3333cc"/>
<rect x="149.2" y="408.5" width="1.6" height="2" fill="#3333cc"/>
<rect x="152.2" y="408.5" width="1.6" height="2" fill="#3333cc"/>
<rect x="157.2" y="410.6" width="1.6" height="2" fill="#3333cc"/>
<rect x="160.2" y="410.6" width="1.6" height="2" fill="#3333cc"/>
<rect x="169.2" y="418.3" width="1.6" height="2" fill="#3333cc"/>
<rect x="176.2" y="420" width="1.6" height="2" fill="#3333cc"/>
<rect x="185.2" y="422.8" width="1.6" height="2" fill="#3333cc"/>
<rect x="190.2" y="422.8" width="1.6" height="2" fill="#3333cc"/>
<rect x="194.2" y="422.8" width="1.6" height="2" fill="#3333cc"/>
<text x="65.0" y="467.1" font-size="13.5" font-weight="bold" fill="#000" stroke="#000" stroke-width="0.25" textLength="59.1" lengthAdjust="spacingAndGlyphs" >Deaths/N</text>
<text x="135.5" y="467.1" font-size="13.5" font-weight="bold" fill="#000" stroke="#000" stroke-width="0.25" textLength="71.5" lengthAdjust="spacingAndGlyphs" >Percentage</text>
<line x1="53.3" y1="477.1" x2="58.9" y2="477.1" stroke="#888" stroke-width="1.2" />
<text x="64.2" y="481.6" font-size="13.5" font-weight="bold" fill="#000" stroke="#000" stroke-width="0.25" >1</text>
<text x="87.6" y="481.6" font-size="13.5" font-weight="bold" fill="#000" stroke="#000" stroke-width="0.25" textLength="33.8" lengthAdjust="spacingAndGlyphs" >26/60</text>
<text x="161.2" y="481.6" font-size="13.5" font-weight="bold" fill="#000" stroke="#000" stroke-width="0.25" textLength="27" lengthAdjust="spacingAndGlyphs" >43%</text>
<line x1="53.3" y1="491.3" x2="58.9" y2="491.3" stroke="#e07070" stroke-width="1.2" />
<text x="64.2" y="495.8" font-size="13.5" font-weight="bold" fill="#000" stroke="#000" stroke-width="0.25" >2</text>
<text x="87.6" y="495.8" font-size="13.5" font-weight="bold" fill="#000" stroke="#000" stroke-width="0.25" textLength="33.8" lengthAdjust="spacingAndGlyphs" >18/39</text>
<text x="161.2" y="495.8" font-size="13.5" font-weight="bold" fill="#000" stroke="#000" stroke-width="0.25" textLength="27" lengthAdjust="spacingAndGlyphs" >46%</text>
<line x1="53.3" y1="505.9" x2="58.9" y2="505.9" stroke="#66cc66" stroke-width="1.2" />
<text x="64.2" y="510.4" font-size="13.5" font-weight="bold" fill="#000" stroke="#000" stroke-width="0.25" >3</text>
<text x="87.6" y="510.4" font-size="13.5" font-weight="bold" fill="#000" stroke="#000" stroke-width="0.25" textLength="33.8" lengthAdjust="spacingAndGlyphs" >34/98</text>
<text x="161.2" y="510.4" font-size="13.5" font-weight="bold" fill="#000" stroke="#000" stroke-width="0.25" textLength="27" lengthAdjust="spacingAndGlyphs" >35%</text>
<line x1="53.3" y1="520.5" x2="58.9" y2="520.5" stroke="#7070dd" stroke-width="1.2" />
<text x="64.2" y="525" font-size="13.5" font-weight="bold" fill="#000" stroke="#000" stroke-width="0.25" >4</text>
<text x="87.6" y="525" font-size="13.5" font-weight="bold" fill="#000" stroke="#000" stroke-width="0.25" textLength="42" lengthAdjust="spacingAndGlyphs" >33/142</text>
<text x="161.2" y="525" font-size="13.5" font-weight="bold" fill="#000" stroke="#000" stroke-width="0.25" textLength="27" lengthAdjust="spacingAndGlyphs" >23%</text>
<text x="84.3" y="538.8" font-size="13.5" font-weight="bold" textLength="75.3" lengthAdjust="spacingAndGlyphs"><tspan font-style="italic">P</tspan> = .000438</text>
<text x="270.2" y="380.2" font-size="17.3" font-weight="bold" fill="#000" stroke="#000" stroke-width="0.25" >F</text>
<rect x="313.8" y="380.5" width="201.2" height="169.70000000000005" fill="none" stroke="#9a9a9a" stroke-width="1.3"/>
<text x="306.9" y="548.2" font-size="13.5" font-weight="bold" fill="#000" stroke="#000" stroke-width="0.25" text-anchor="end" textLength="21.3" lengthAdjust="spacingAndGlyphs" >0.0</text>
<line x1="311.3" y1="543.7" x2="313.8" y2="543.7" stroke="#aaa" stroke-width="1" />
<text x="306.9" y="516.7" font-size="13.5" font-weight="bold" fill="#000" stroke="#000" stroke-width="0.25" text-anchor="end" textLength="21.3" lengthAdjust="spacingAndGlyphs" >0.2</text>
<line x1="311.3" y1="512.22" x2="313.8" y2="512.22" stroke="#aaa" stroke-width="1" />
<text x="306.9" y="485.2" font-size="13.5" font-weight="bold" fill="#000" stroke="#000" stroke-width="0.25" text-anchor="end" textLength="21.3" lengthAdjust="spacingAndGlyphs" >0.4</text>
<line x1="311.3" y1="480.74" x2="313.8" y2="480.74" stroke="#aaa" stroke-width="1" />
<text x="306.9" y="453.8" font-size="13.5" font-weight="bold" fill="#000" stroke="#000" stroke-width="0.25" text-anchor="end" textLength="21.3" lengthAdjust="spacingAndGlyphs" >0.6</text>
<line x1="311.3" y1="449.26" x2="313.8" y2="449.26" stroke="#aaa" stroke-width="1" />
<text x="306.9" y="422.3" font-size="13.5" font-weight="bold" fill="#000" stroke="#000" stroke-width="0.25" text-anchor="end" textLength="21.3" lengthAdjust="spacingAndGlyphs" >0.8</text>
<line x1="311.3" y1="417.78" x2="313.8" y2="417.78" stroke="#aaa" stroke-width="1" />
<text x="306.9" y="390.8" font-size="13.5" font-weight="bold" fill="#000" stroke="#000" stroke-width="0.25" text-anchor="end" textLength="21.3" lengthAdjust="spacingAndGlyphs" >1.0</text>
<line x1="311.3" y1="386.3" x2="313.8" y2="386.3" stroke="#aaa" stroke-width="1" />
<text x="317" y="566.6" font-size="14.5" font-weight="bold" fill="#000" stroke="#000" stroke-width="0.25" text-anchor="middle" >0</text>
<line x1="317" y1="550.2" x2="317" y2="552.7" stroke="#aaa" stroke-width="1" />
<text x="366.2" y="566.6" font-size="14.5" font-weight="bold" fill="#000" stroke="#000" stroke-width="0.25" text-anchor="middle" >10</text>
<line x1="366.2" y1="550.2" x2="366.2" y2="552.7" stroke="#aaa" stroke-width="1" />
<text x="412.9" y="566.6" font-size="14.5" font-weight="bold" fill="#000" stroke="#000" stroke-width="0.25" text-anchor="middle" >20</text>
<line x1="412.9" y1="550.2" x2="412.9" y2="552.7" stroke="#aaa" stroke-width="1" />
<text x="459.4" y="566.6" font-size="14.5" font-weight="bold" fill="#000" stroke="#000" stroke-width="0.25" text-anchor="middle" >30</text>
<line x1="459.4" y1="550.2" x2="459.4" y2="552.7" stroke="#aaa" stroke-width="1" />
<text x="506.1" y="566.6" font-size="14.5" font-weight="bold" fill="#000" stroke="#000" stroke-width="0.25" text-anchor="middle" >40</text>
<line x1="506.1" y1="550.2" x2="506.1" y2="552.7" stroke="#aaa" stroke-width="1" />
<text x="279.8" y="538.3" font-size="14.5" font-weight="bold" fill="#000" stroke="#000" stroke-width="0.25" textLength="139.5" lengthAdjust="spacingAndGlyphs" transform="rotate(-90 279.8 538.3)" >Proportion of cases</text>
<text x="307.2" y="588" font-size="15" font-weight="bold" fill="#000" stroke="#000" stroke-width="0.25" textLength="209" lengthAdjust="spacingAndGlyphs" >Months from start of therapy</text>
<path d="M314.5 386.2 H318.7 V387.5 H335 V390.4 H338.8 V392.3 H343.6 V394.2 H354.2 V397 H362 V399 H384 V402 H388.8 V403.8 H428.8 V406.6 H510.8" fill="none" stroke="#66cc66" stroke-width="1"/>
<rect x="389.2" y="401" width="1.6" height="2" fill="#66cc66"/>
<rect x="395.2" y="401" width="1.6" height="2" fill="#66cc66"/>
<rect x="401.2" y="401" width="1.6" height="2" fill="#66cc66"/>
<rect x="405.2" y="401" width="1.6" height="2" fill="#66cc66"/>
<rect x="409.2" y="401" width="1.6" height="2" fill="#66cc66"/>
<rect x="414.2" y="401" width="1.6" height="2" fill="#66cc66"/>
<rect x="419.2" y="401" width="1.6" height="2" fill="#66cc66"/>
<rect x="431.2" y="405.6" width="1.6" height="2" fill="#66cc66"/>
<rect x="436.2" y="405.6" width="1.6" height="2" fill="#66cc66"/>
<rect x="441.2" y="405.6" width="1.6" height="2" fill="#66cc66"/>
<rect x="446.2" y="405.6" width="1.6" height="2" fill="#66cc66"/>
<rect x="451.2" y="405.6" width="1.6" height="2" fill="#66cc66"/>
<rect x="456.2" y="405.6" width="1.6" height="2" fill="#66cc66"/>
<rect x="461.2" y="405.6" width="1.6" height="2" fill="#66cc66"/>
<rect x="466.2" y="405.6" width="1.6" height="2" fill="#66cc66"/>
<rect x="471.2" y="405.6" width="1.6" height="2" fill="#66cc66"/>
<rect x="476.2" y="405.6" width="1.6" height="2" fill="#66cc66"/>
<rect x="481.2" y="405.6" width="1.6" height="2" fill="#66cc66"/>
<rect x="486.2" y="405.6" width="1.6" height="2" fill="#66cc66"/>
<rect x="491.2" y="405.6" width="1.6" height="2" fill="#66cc66"/>
<rect x="496.2" y="405.6" width="1.6" height="2" fill="#66cc66"/>
<rect x="501.2" y="405.6" width="1.6" height="2" fill="#66cc66"/>
<rect x="506.2" y="405.6" width="1.6" height="2" fill="#66cc66"/>
<path d="M314.5 386.2 H453 V399.2 H509.6" fill="none" stroke="#e06666" stroke-width="1"/>
<rect x="409.2" y="384.8" width="1.6" height="2" fill="#e06666"/>
<rect x="414.2" y="384.8" width="1.6" height="2" fill="#e06666"/>
<rect x="422.2" y="384.8" width="1.6" height="2" fill="#e06666"/>
<rect x="429.2" y="384.8" width="1.6" height="2" fill="#e06666"/>
<rect x="437.2" y="384.8" width="1.6" height="2" fill="#e06666"/>
<rect x="444.2" y="384.8" width="1.6" height="2" fill="#e06666"/>
<rect x="459.2" y="398.2" width="1.6" height="2" fill="#e06666"/>
<rect x="465.2" y="398.2" width="1.6" height="2" fill="#e06666"/>
<rect x="471.2" y="398.2" width="1.6" height="2" fill="#e06666"/>
<rect x="477.2" y="398.2" width="1.6" height="2" fill="#e06666"/>
<rect x="483.2" y="398.2" width="1.6" height="2" fill="#e06666"/>
<rect x="489.2" y="398.2" width="1.6" height="2" fill="#e06666"/>
<rect x="495.2" y="398.2" width="1.6" height="2" fill="#e06666"/>
<rect x="501.2" y="398.2" width="1.6" height="2" fill="#e06666"/>
<rect x="507.2" y="398.2" width="1.6" height="2" fill="#e06666"/>
<path d="M314.5 386.2 H318.7 V387.5 H335 V390.4 H338.8 V392.3 H351.3 V394.2 H425.4 V397.4 H509.6" fill="none" stroke="#3333cc" stroke-width="1"/>
<rect x="369.2" y="393.2" width="1.6" height="2" fill="#3333cc"/>
<rect x="379.2" y="393.2" width="1.6" height="2" fill="#3333cc"/>
<rect x="387.2" y="393.2" width="1.6" height="2" fill="#3333cc"/>
<rect x="395.2" y="393.2" width="1.6" height="2" fill="#3333cc"/>
<rect x="401.2" y="393.2" width="1.6" height="2" fill="#3333cc"/>
<rect x="407.2" y="393.2" width="1.6" height="2" fill="#3333cc"/>
<rect x="413.2" y="393.2" width="1.6" height="2" fill="#3333cc"/>
<rect x="419.2" y="393.2" width="1.6" height="2" fill="#3333cc"/>
<rect x="429.2" y="396.4" width="1.6" height="2" fill="#3333cc"/>
<rect x="433.2" y="396.4" width="1.6" height="2" fill="#3333cc"/>
<rect x="437.2" y="396.4" width="1.6" height="2" fill="#3333cc"/>
<rect x="441.2" y="396.4" width="1.6" height="2" fill="#3333cc"/>
<rect x="445.2" y="396.4" width="1.6" height="2" fill="#3333cc"/>
<rect x="449.2" y="396.4" width="1.6" height="2" fill="#3333cc"/>
<rect x="453.2" y="396.4" width="1.6" height="2" fill="#3333cc"/>
<rect x="457.2" y="396.4" width="1.6" height="2" fill="#3333cc"/>
<rect x="461.2" y="396.4" width="1.6" height="2" fill="#3333cc"/>
<rect x="465.2" y="396.4" width="1.6" height="2" fill="#3333cc"/>
<rect x="469.2" y="396.4" width="1.6" height="2" fill="#3333cc"/>
<rect x="473.2" y="396.4" width="1.6" height="2" fill="#3333cc"/>
<rect x="477.2" y="396.4" width="1.6" height="2" fill="#3333cc"/>
<rect x="481.2" y="396.4" width="1.6" height="2" fill="#3333cc"/>
<rect x="485.2" y="396.4" width="1.6" height="2" fill="#3333cc"/>
<rect x="489.2" y="396.4" width="1.6" height="2" fill="#3333cc"/>
<rect x="493.2" y="396.4" width="1.6" height="2" fill="#3333cc"/>
<rect x="497.2" y="396.4" width="1.6" height="2" fill="#3333cc"/>
<rect x="501.2" y="396.4" width="1.6" height="2" fill="#3333cc"/>
<rect x="505.2" y="396.4" width="1.6" height="2" fill="#3333cc"/>
<path d="M314.5 386.2 H318.7 V387.5 H335 V390.4 H337.9 V393.3 H338.8 V400 H345.6 V403.8 H347.5 V410.6 H363.8 V415.4 H372.5 V420.2 H376.3 V425 H378.3 V430.8 H386 V435.6 H405.8 V440.8 H410.4 V444.2 H419.6 V450 H452 V459.2 H499.2" fill="none" stroke="#444" stroke-width="1"/>
<rect x="457.2" y="458.2" width="1.6" height="2" fill="#444"/>
<rect x="462.2" y="458.2" width="1.6" height="2" fill="#444"/>
<rect x="467.2" y="458.2" width="1.6" height="2" fill="#444"/>
<rect x="472.2" y="458.2" width="1.6" height="2" fill="#444"/>
<rect x="477.2" y="458.2" width="1.6" height="2" fill="#444"/>
<rect x="482.2" y="458.2" width="1.6" height="2" fill="#444"/>
<rect x="487.2" y="458.2" width="1.6" height="2" fill="#444"/>
<rect x="492.2" y="458.2" width="1.6" height="2" fill="#444"/>
<rect x="497.2" y="458.2" width="1.6" height="2" fill="#444"/>
<rect x="427.2" y="449" width="1.6" height="2" fill="#444"/>
<rect x="439.2" y="449" width="1.6" height="2" fill="#444"/>
<rect x="446.2" y="449" width="1.6" height="2" fill="#444"/>
<text x="359.5" y="474.5" font-size="13.5" font-weight="bold" fill="#000" stroke="#000" stroke-width="0.25" textLength="58.8" lengthAdjust="spacingAndGlyphs" >Deaths/N</text>
<text x="429.8" y="474.5" font-size="13.5" font-weight="bold" fill="#000" stroke="#000" stroke-width="0.25" textLength="72" lengthAdjust="spacingAndGlyphs" >Percentage</text>
<line x1="335.6" y1="484.9" x2="340.8" y2="484.9" stroke="#888" stroke-width="1.2" />
<text x="348" y="489.4" font-size="13.5" font-weight="bold" fill="#000" stroke="#000" stroke-width="0.25" >1</text>
<text x="371.7" y="489.4" font-size="13.5" font-weight="bold" fill="#000" stroke="#000" stroke-width="0.25" textLength="33.3" lengthAdjust="spacingAndGlyphs" >14/33</text>
<text x="446" y="489.4" font-size="13.5" font-weight="bold" fill="#000" stroke="#000" stroke-width="0.25" textLength="26.5" lengthAdjust="spacingAndGlyphs" >42%</text>
<line x1="335.6" y1="498.1" x2="340.8" y2="498.1" stroke="#e07070" stroke-width="1.2" />
<text x="348" y="502.6" font-size="13.5" font-weight="bold" fill="#000" stroke="#000" stroke-width="0.25" >2</text>
<text x="371.7" y="502.6" font-size="13.5" font-weight="bold" fill="#000" stroke="#000" stroke-width="0.25" textLength="27" lengthAdjust="spacingAndGlyphs" >1/23</text>
<text x="446" y="502.6" font-size="13.5" font-weight="bold" fill="#000" stroke="#000" stroke-width="0.25" textLength="17.5" lengthAdjust="spacingAndGlyphs" >4%</text>
<line x1="335.6" y1="512.5" x2="340.8" y2="512.5" stroke="#66cc66" stroke-width="1.2" />
<text x="348" y="517" font-size="13.5" font-weight="bold" fill="#000" stroke="#000" stroke-width="0.25" >3</text>
<text x="371.7" y="517" font-size="13.5" font-weight="bold" fill="#000" stroke="#000" stroke-width="0.25" textLength="27" lengthAdjust="spacingAndGlyphs" >9/71</text>
<text x="446" y="517" font-size="13.5" font-weight="bold" fill="#000" stroke="#000" stroke-width="0.25" textLength="26.5" lengthAdjust="spacingAndGlyphs" >13%</text>
<line x1="335.6" y1="526.5" x2="340.8" y2="526.5" stroke="#7070dd" stroke-width="1.2" />
<text x="348" y="531" font-size="13.5" font-weight="bold" fill="#000" stroke="#000" stroke-width="0.25" >4</text>
<text x="371.7" y="531" font-size="13.5" font-weight="bold" fill="#000" stroke="#000" stroke-width="0.25" textLength="27" lengthAdjust="spacingAndGlyphs" >5/78</text>
<text x="446" y="531" font-size="13.5" font-weight="bold" fill="#000" stroke="#000" stroke-width="0.25" textLength="17.5" lengthAdjust="spacingAndGlyphs" >6%</text>
<text x="368.2" y="545.8" font-size="13.5" font-weight="bold" textLength="106" lengthAdjust="spacingAndGlyphs"><tspan font-style="italic">P</tspan> = .0000000328</text>
<text x="51.5" y="617.3" font-size="12" font-weight="bold" fill="#000" stroke="#000" stroke-width="0.25" textLength="9.0" lengthAdjust="spacingAndGlyphs" >1,</text>
<text x="67.5" y="617.3" font-size="12" font-weight="bold" fill="#000" stroke="#000" stroke-width="0.25" font-style="italic" textLength="31.0" lengthAdjust="spacingAndGlyphs" >JUN</text>
<text x="98.3" y="612.1" font-size="8.2" font-weight="bold" fill="#000" font-style="italic" textLength="5.0" lengthAdjust="spacingAndGlyphs" >L</text>
<text x="103.5" y="617.3" font-size="12" font-weight="bold" fill="#000" stroke="#000" stroke-width="0.25" font-style="italic" textLength="36.5" lengthAdjust="spacingAndGlyphs" >EGR1</text>
<text x="141.8" y="612.1" font-size="8.2" font-weight="bold" fill="#000" font-style="italic" textLength="6.5" lengthAdjust="spacingAndGlyphs" >L</text>
<text x="150.5" y="617.3" font-size="12" font-weight="bold" fill="#000" stroke="#000" stroke-width="0.25" textLength="20.8" lengthAdjust="spacingAndGlyphs" >; 2,</text>
<text x="179.5" y="617.3" font-size="12" font-weight="bold" fill="#000" stroke="#000" stroke-width="0.25" font-style="italic" textLength="29.7" lengthAdjust="spacingAndGlyphs" >JUN</text>
<text x="209.3" y="612.1" font-size="8.2" font-weight="bold" fill="#000" font-style="italic" textLength="6.9" lengthAdjust="spacingAndGlyphs" >H</text>
<text x="216.6" y="617.3" font-size="12" font-weight="bold" fill="#000" stroke="#000" stroke-width="0.25" font-style="italic" textLength="35.4" lengthAdjust="spacingAndGlyphs" >EGR1</text>
<text x="253.6" y="612.1" font-size="8.2" font-weight="bold" fill="#000" font-style="italic" textLength="6.4" lengthAdjust="spacingAndGlyphs" >L</text>
<text x="263" y="617.3" font-size="12" font-weight="bold" fill="#000" stroke="#000" stroke-width="0.25" textLength="20.5" lengthAdjust="spacingAndGlyphs" >; 3,</text>
<text x="291.8" y="617.3" font-size="12" font-weight="bold" fill="#000" stroke="#000" stroke-width="0.25" font-style="italic" textLength="29.7" lengthAdjust="spacingAndGlyphs" >JUN</text>
<text x="320.3" y="612.1" font-size="8.2" font-weight="bold" fill="#000" font-style="italic" textLength="5.7" lengthAdjust="spacingAndGlyphs" >L</text>
<text x="325.5" y="617.3" font-size="12" font-weight="bold" fill="#000" stroke="#000" stroke-width="0.25" font-style="italic" textLength="37.6" lengthAdjust="spacingAndGlyphs" >EGR1</text>
<text x="364.8" y="612.1" font-size="8.2" font-weight="bold" fill="#000" font-style="italic" textLength="10.5" lengthAdjust="spacingAndGlyphs" >H</text>
<text x="380.3" y="617.3" font-size="12" font-weight="bold" fill="#000" stroke="#000" stroke-width="0.25" textLength="19.7" lengthAdjust="spacingAndGlyphs" >; 4,</text>
<text x="410" y="617.3" font-size="12" font-weight="bold" fill="#000" stroke="#000" stroke-width="0.25" font-style="italic" textLength="29.1" lengthAdjust="spacingAndGlyphs" >JUN</text>
<text x="438.5" y="612.1" font-size="8.2" font-weight="bold" fill="#000" font-style="italic" textLength="8.5" lengthAdjust="spacingAndGlyphs" >H</text>
<text x="445" y="617.3" font-size="12" font-weight="bold" fill="#000" stroke="#000" stroke-width="0.25" font-style="italic" textLength="38.4" lengthAdjust="spacingAndGlyphs" >EGR1</text>
<text x="484.2" y="612.1" font-size="8.2" font-weight="bold" fill="#000" font-style="italic" textLength="8.6" lengthAdjust="spacingAndGlyphs" >H</text>
<text x="494.8" y="617.3" font-size="12" font-weight="bold" fill="#000" stroke="#000" stroke-width="0.25" textLength="4.7" lengthAdjust="spacingAndGlyphs" >.</text>
</svg>
</body></html>
